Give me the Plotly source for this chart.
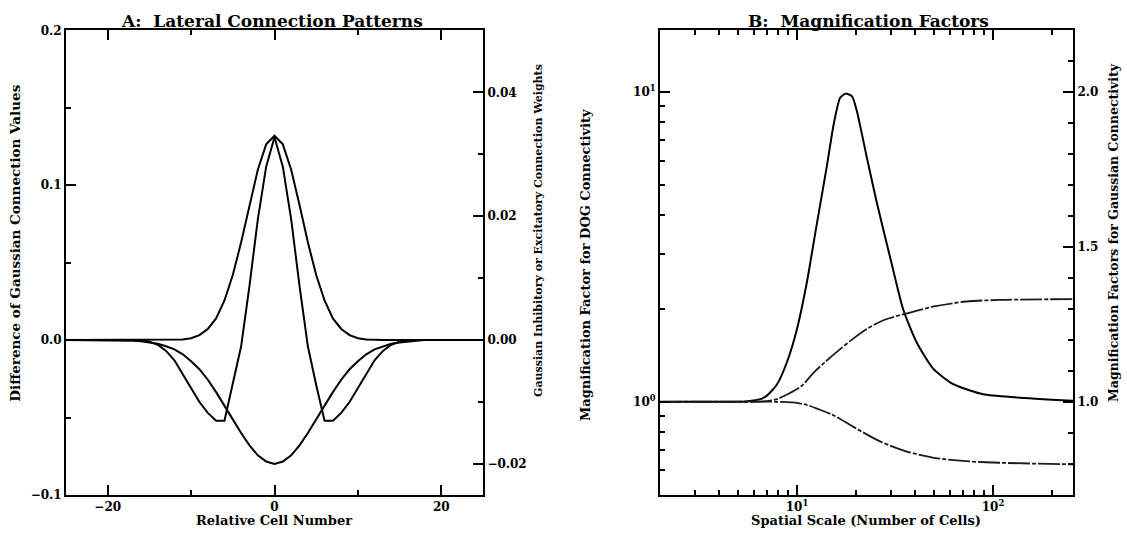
import plotly.graph_objects as go

# ---------------- Panel A data (relative cell number) ----------------
cell = list(range(-25, 26))
dog_values = [0, 0, 0, 0, 0, 0, 0, 0, 0, 0,
              -0.001, -0.003, -0.007, -0.013, -0.022, -0.031, -0.040, -0.047, -0.052, -0.052,
              -0.029, -0.004, 0.035, 0.078, 0.112,
              0.131,
              0.112, 0.078, 0.035, -0.004, -0.029,
              -0.052, -0.052, -0.047, -0.040, -0.031, -0.022, -0.013, -0.007, -0.003, -0.001,
              0, 0, 0, 0, 0, 0, 0, 0, 0, 0]
excit_values = [0, 0, 0, 0, 0, 0, 0, 0, 0, 0, 0, 0, 0, 0,
                0.0001, 0.0003, 0.0008, 0.0018, 0.0035, 0.0064, 0.0105, 0.0158, 0.0218, 0.0275, 0.0316,
                0.0330,
                0.0316, 0.0275, 0.0218, 0.0158, 0.0105, 0.0064, 0.0035, 0.0018, 0.0008, 0.0003, 0.0001,
                0, 0, 0, 0, 0, 0, 0, 0, 0, 0, 0, 0, 0, 0]
inhib_values = [0, 0, 0, 0, 0, 0, 0, 0,
                -0.0001, -0.0002, -0.0004, -0.0006, -0.0010, -0.0015, -0.0023, -0.0034, -0.0047,
                -0.0064, -0.0084, -0.0105, -0.0128, -0.0150, -0.0170, -0.0186, -0.0196,
                -0.0200,
                -0.0196, -0.0186, -0.0170, -0.0150, -0.0128, -0.0105, -0.0084, -0.0064,
                -0.0047, -0.0034, -0.0023, -0.0015, -0.0010, -0.0006, -0.0004, -0.0002, -0.0001,
                0, 0, 0, 0, 0, 0, 0, 0]

# ---------------- Panel B data (spatial scale) ----------------
dog_scale = [2, 3, 4, 5, 5.5, 6, 6.5, 7.0, 7.9, 8.9, 10, 11.2, 12.6, 14.2, 15.4, 16.6, 17.7,
             19.1, 20.2, 22.7, 25.5, 29.9, 34.8, 40.7, 49.5, 62.7, 89, 132, 256]
dog_mag = [1.0, 1.0, 1.0, 1.0, 1.003, 1.01, 1.02, 1.045, 1.137, 1.347, 1.72, 2.41, 3.73, 5.77,
           7.9, 9.6, 9.9, 9.7, 8.7, 6.17, 4.42, 2.92, 1.99, 1.56, 1.28, 1.14, 1.057, 1.033, 1.007]

gauss_scale = [2, 5, 7, 8, 9, 10.5, 12.2, 14, 16.6, 19, 22.7, 28, 36, 50, 73, 108, 256]
gauss_up = [1.0, 1.0, 1.002, 1.01, 1.025, 1.05, 1.095, 1.13, 1.17, 1.2, 1.235, 1.265, 1.285,
            1.308, 1.324, 1.329, 1.332]
gauss_lo_scale = [2, 8, 9.5, 11.2, 13, 15.4, 19.4, 26.5, 36, 50, 73, 108, 256]
gauss_lo = [1.0, 1.0, 0.998, 0.99, 0.975, 0.956, 0.919, 0.872, 0.84, 0.819, 0.808, 0.803, 0.798]

W, H = 1127, 538
FONT = "DejaVu Serif"


def px_x(p):
    return p / W


def px_y(p):
    return 1 - p / H


A_dom = [px_x(66), px_x(483)]
B_dom = [px_x(660), px_x(1073)]
Y_dom = [px_y(501), px_y(24)]

line_style = dict(color="black", width=2)
gdash = "22px,2px,4px,2px"

fig = go.Figure()
fig.add_trace(go.Scatter(x=cell, y=dog_values, xaxis="x", yaxis="y", mode="lines",
                         line=line_style, showlegend=False))
fig.add_trace(go.Scatter(x=cell, y=excit_values, xaxis="x", yaxis="y2", mode="lines",
                         line=line_style, showlegend=False))
fig.add_trace(go.Scatter(x=cell, y=inhib_values, xaxis="x", yaxis="y2", mode="lines",
                         line=line_style, showlegend=False))
fig.add_trace(go.Scatter(x=dog_scale, y=dog_mag, xaxis="x2", yaxis="y3", mode="lines",
                         line=dict(color="black", width=2, shape="spline", smoothing=0.6),
                         showlegend=False))
fig.add_trace(go.Scatter(x=gauss_scale, y=gauss_up, xaxis="x2", yaxis="y4", mode="lines",
                         line=dict(color="#1a1a1a", width=1.8, dash=gdash, shape="spline", smoothing=0.8),
                         showlegend=False))
fig.add_trace(go.Scatter(x=gauss_lo_scale, y=gauss_lo, xaxis="x2", yaxis="y4", mode="lines",
                         line=dict(color="#1a1a1a", width=1.8, dash=gdash, shape="spline", smoothing=0.8),
                         showlegend=False))

tickfont = dict(family=FONT, size=12, color="black", weight="bold")
common = dict(showline=True, linecolor="black", linewidth=2, showgrid=False, zeroline=False,
              ticks="inside", tickcolor="black", tickwidth=1.5, tickfont=tickfont)
minor_style = dict(ticklen=5, ticks="inside", tickcolor="black", tickwidth=1.5)

fig.update_layout(
    width=W, height=H,
    margin=dict(l=0, r=0, t=0, b=0),
    paper_bgcolor="white", plot_bgcolor="white",
    font=dict(family=FONT, color="black"),
    xaxis=dict(domain=A_dom, anchor="y", range=[-25, 25], tickvals=[-20, 0, 20],
               ticktext=["\u221220", "0", "20"], ticklen=10, mirror="ticks",
               minor=dict(tickvals=[-10, 10], **minor_style),
               **common),
    yaxis=dict(domain=Y_dom, anchor="x", range=[-0.1, 0.2], tickvals=[-0.1, 0.0, 0.1, 0.2],
               ticktext=["\u22120.1", "0.0", "0.1", "0.2"], ticklen=10, mirror=True,
               minor=dict(tickvals=[-0.05, 0.05, 0.15], **minor_style),
               **common),
    yaxis2=dict(overlaying="y", side="right", anchor="x", range=[-0.025, 0.05],
                tickvals=[-0.02, 0.0, 0.02, 0.04],
                ticktext=["\u22120.02", "0.00", "0.02", "0.04"], ticklen=10,
                minor=dict(tickvals=[-0.01, 0.01, 0.03], **minor_style),
                **common),
    xaxis2=dict(domain=B_dom, anchor="y3", type="log", range=[0.30103, 2.40824],
                tickvals=[10, 100], ticktext=["10<sup>1</sup>", "10<sup>2</sup>"], ticklen=10,
                mirror="ticks",
                minor=dict(tickvals=[3, 4, 5, 6, 7, 8, 9, 20, 30, 40, 50, 60, 70, 80, 90, 200],
                           **minor_style),
                **common),
    yaxis3=dict(domain=Y_dom, anchor="x2", type="log", range=[-0.30103, 1.2],
                tickvals=[1, 10], ticktext=["10<sup>0</sup>", "10<sup>1</sup>"], ticklen=10,
                mirror=True,
                minor=dict(tickvals=[0.6, 0.7, 0.8, 0.9, 2, 3, 4, 5, 6, 7, 8, 9], **minor_style),
                **common),
    yaxis4=dict(overlaying="y3", side="right", anchor="x2", range=[0.69897, 2.2],
                tickvals=[1.0, 1.5, 2.0], ticktext=["1.0", "1.5", "2.0"], ticklen=10,
                minor=dict(dtick=0.1, tick0=0, **minor_style),
                **common),
)

anns = [
    dict(text="A:  Lateral Connection Patterns", x=px_x(272), y=px_y(14), size=17, angle=0),
    dict(text="B:  Magnification Factors", x=px_x(868), y=px_y(14), size=17, angle=0),
    dict(text="Relative Cell Number", x=px_x(274), y=px_y(527), size=13, angle=0),
    dict(text="Spatial Scale (Number of Cells)", x=px_x(866), y=px_y(527), size=13, angle=0),
    dict(text="Difference of Gaussian Connection Values", x=px_x(15), y=px_y(243), size=13.5, angle=-90),
    dict(text="Gaussian Inhibitory or Excitatory Connection Weights", x=px_x(538), y=px_y(230), size=11, angle=-90),
    dict(text="Magnification Factor for DOG Connectivity", x=px_x(585), y=px_y(265), size=13, angle=-90),
    dict(text="Magnification Factors for Gaussian Connectivity", x=px_x(1114), y=px_y(232), size=12.5, angle=-90),
]
for a in anns:
    fig.add_annotation(text=a["text"], x=a["x"], y=a["y"], xref="paper", yref="paper",
                       showarrow=False, textangle=a["angle"], xanchor="center", yanchor="middle",
                       font=dict(family=FONT, size=a["size"], color="black", weight="bold"))

fig.write_html("out.html")
